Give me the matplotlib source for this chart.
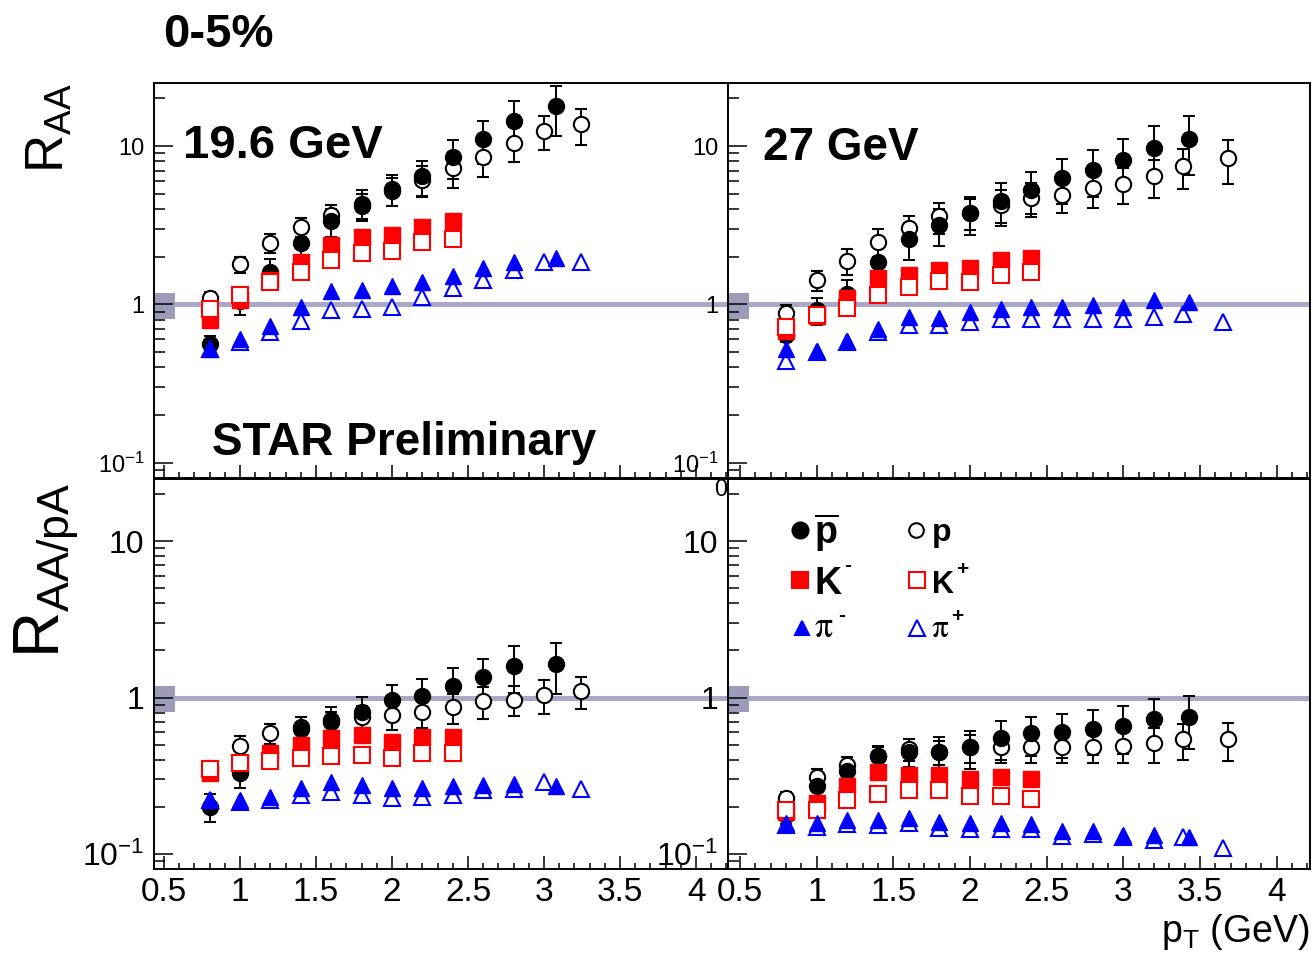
import numpy as np
import matplotlib
matplotlib.use("Agg")
import matplotlib.pyplot as plt
from matplotlib.ticker import (MultipleLocator, LogLocator, NullFormatter,
                               FixedLocator, FixedFormatter)
from matplotlib.patches import Rectangle

plt.rcParams['font.family'] = ['Liberation Sans', 'DejaVu Sans']
plt.rcParams['mathtext.fontset'] = 'custom'
plt.rcParams['mathtext.rm'] = 'Liberation Sans'
plt.rcParams['mathtext.it'] = 'Liberation Sans:italic'
plt.rcParams['mathtext.bf'] = 'Liberation Sans:bold'

# ---------------- data: 0-5% central, pT in GeV ----------------
# 19.6 GeV
x196_pbar = [0.8, 1.0, 1.2, 1.4, 1.6, 1.8, 2.0, 2.2, 2.4, 2.6, 2.8, 3.08]
x196_p    = [0.8, 1.0, 1.2, 1.4, 1.6, 1.8, 2.0, 2.2, 2.4, 2.6, 2.8, 3.0, 3.24]
x196_K    = [0.8, 1.0, 1.2, 1.4, 1.6, 1.8, 2.0, 2.2, 2.4]
x196_pim  = [0.8, 1.0, 1.2, 1.4, 1.6, 1.8, 2.0, 2.2, 2.4, 2.6, 2.8, 3.08]
x196_pip  = [0.8, 1.0, 1.2, 1.4, 1.6, 1.8, 2.0, 2.2, 2.4, 2.6, 2.8, 3.0, 3.24]
# 27 GeV
x27_pbar = [0.8, 1.0, 1.2, 1.4, 1.6, 1.8, 2.0, 2.2, 2.4, 2.6, 2.8, 3.0, 3.2, 3.43]
x27_p    = [0.8, 1.0, 1.2, 1.4, 1.6, 1.8, 2.0, 2.2, 2.4, 2.6, 2.8, 3.0, 3.2, 3.39, 3.68]
x27_K    = [0.8, 1.0, 1.2, 1.4, 1.6, 1.8, 2.0, 2.2, 2.4]
x27_pim  = [0.8, 1.0, 1.2, 1.4, 1.6, 1.8, 2.0, 2.2, 2.4, 2.6, 2.8, 3.0, 3.2, 3.43]
x27_pip  = [0.8, 1.0, 1.2, 1.4, 1.6, 1.8, 2.0, 2.2, 2.4, 2.6, 2.8, 3.0, 3.2, 3.39, 3.65]

# R_AA, 19.6 GeV
raa196_pbar = [0.56, 1.05, 1.6, 2.45, 3.34, 4.3, 5.36, 6.45, 8.55, 11.0, 14.4, 17.8]
raa196_pbar_err = [0.07, 0.19, 0.32, 0.44, 0.67, 0.95, 1.18, 1.6, 2.4, 3.3, 4.75, 6.2]
raa196_p = [1.09, 1.79, 2.45, 3.1, 3.68, 4.2, 5.2, 6.14, 7.28, 8.55, 10.5, 12.5, 13.7]
raa196_p_err = [0.11, 0.21, 0.34, 0.43, 0.55, 0.76, 1.04, 1.35, 1.82, 2.14, 2.6, 3.0, 3.55]
raa196_Km = [0.80, 1.06, 1.42, 1.86, 2.37, 2.68, 2.75, 3.1, 3.34]
raa196_Kp = [0.94, 1.14, 1.38, 1.6, 1.9, 2.12, 2.17, 2.47, 2.59]
raa196_pim = [0.52, 0.605, 0.73, 0.96, 1.22, 1.24, 1.30, 1.39, 1.51, 1.69, 1.86, 1.95]
raa196_pip = [0.52, 0.577, 0.667, 0.79, 0.92, 0.94, 0.96, 1.11, 1.26, 1.42, 1.64, 1.86, 1.86]

# R_AA, 27 GeV
raa27_pbar = [0.64, 0.92, 1.17, 1.86, 2.58, 3.18, 3.77, 4.47, 5.3, 6.29, 7.1, 8.2, 9.76, 11.0]
raa27_pbar_err = [0.06, 0.18, 0.26, 0.45, 0.67, 0.83, 1.02, 1.34, 1.6, 2.0, 2.35, 2.8, 3.6, 4.4]
raa27_p = [0.88, 1.42, 1.88, 2.49, 3.03, 3.59, 3.8, 4.26, 4.7, 4.93, 5.43, 5.77, 6.45, 7.46, 8.35]
raa27_p_err = [0.11, 0.2, 0.34, 0.5, 0.6, 0.79, 0.84, 1.02, 1.13, 1.18, 1.36, 1.44, 1.74, 2.1, 2.6]
raa27_Km = [0.68, 0.85, 1.09, 1.46, 1.53, 1.64, 1.70, 1.90, 1.97]
raa27_Kp = [0.72, 0.86, 0.95, 1.14, 1.28, 1.40, 1.39, 1.53, 1.59]
raa27_pim = [0.52, 0.51, 0.59, 0.70, 0.83, 0.82, 0.89, 0.94, 0.96, 0.96, 0.99, 0.96, 1.06, 1.03]
raa27_pip = [0.44, 0.50, 0.58, 0.67, 0.74, 0.74, 0.77, 0.81, 0.81, 0.81, 0.81, 0.81, 0.83, 0.87, 0.77]

# R_AA/pA, 19.6 GeV
rpa196_pbar = [0.20, 0.33, 0.45, 0.63, 0.72, 0.81, 0.96, 1.03, 1.19, 1.35, 1.60, 1.65]
rpa196_pbar_err = [0.04, 0.066, 0.09, 0.126, 0.144, 0.194, 0.24, 0.28, 0.345, 0.405, 0.53, 0.59]
rpa196_p = [0.35, 0.49, 0.59, 0.65, 0.70, 0.75, 0.77, 0.81, 0.87, 0.95, 0.97, 1.04, 1.10]
rpa196_p_err = [0.042, 0.074, 0.089, 0.098, 0.112, 0.135, 0.154, 0.17, 0.19, 0.22, 0.21, 0.25, 0.25]
rpa196_Km = [0.33, 0.38, 0.44, 0.50, 0.55, 0.58, 0.52, 0.56, 0.56]
rpa196_Kp = [0.35, 0.38, 0.39, 0.41, 0.42, 0.43, 0.41, 0.44, 0.44]
rpa196_pim = [0.22, 0.22, 0.23, 0.265, 0.29, 0.275, 0.265, 0.265, 0.27, 0.275, 0.278, 0.27]
rpa196_pip = [0.22, 0.215, 0.22, 0.238, 0.25, 0.238, 0.226, 0.232, 0.238, 0.256, 0.26, 0.29, 0.26]

# R_AA/pA, 27 GeV
rpa27_pbar = [0.177, 0.27, 0.34, 0.42, 0.45, 0.45, 0.48, 0.55, 0.59, 0.60, 0.63, 0.66, 0.73, 0.75]
rpa27_pbar_err = [0.021, 0.04, 0.054, 0.071, 0.09, 0.108, 0.13, 0.154, 0.165, 0.19, 0.2, 0.224, 0.255, 0.28]
rpa27_p = [0.226, 0.31, 0.37, 0.42, 0.47, 0.45, 0.48, 0.48, 0.48, 0.48, 0.48, 0.49, 0.51, 0.54, 0.54]
rpa27_p_err = [0.023, 0.037, 0.048, 0.059, 0.075, 0.081, 0.10, 0.10, 0.10, 0.10, 0.10, 0.108, 0.128, 0.14, 0.146]
rpa27_Km = [0.186, 0.21, 0.27, 0.334, 0.32, 0.32, 0.30, 0.31, 0.30]
rpa27_Kp = [0.19, 0.19, 0.22, 0.243, 0.256, 0.256, 0.234, 0.236, 0.223]
rpa27_pim = [0.157, 0.157, 0.165, 0.165, 0.169, 0.161, 0.157, 0.157, 0.155, 0.139, 0.139, 0.132, 0.132, 0.129]
rpa27_pip = [0.153, 0.149, 0.155, 0.153, 0.158, 0.146, 0.144, 0.144, 0.144, 0.13, 0.134, 0.129, 0.122, 0.129, 0.109]

# normalisation uncertainty band around unity
norm_lo, norm_hi = 0.81, 1.18

y_ticks = [0.1, 1, 10]
y_ticklabels = [r'$10^{-1}$', '1', '10']
x_ticks = [0.5, 1, 1.5, 2, 2.5, 3, 3.5, 4]
x_ticklabels = ['0.5', '1', '1.5', '2', '2.5', '3', '3.5', '4']

# ---------------- figure ----------------
W, H = 1313, 960
fig = plt.figure(figsize=(W / 100, H / 100), dpi=100)


def fx(px):
    return px / W


def fy(py):
    return 1 - py / H


LINE_C = '#a9a9c7'
BOX_C = '#9c9cba'
RED = '#ff0000'
BLUE = '#0000ff'


def panel(rect, xlim, xs, ys, bottom_row):
    (xpb, xp, xk, xpim, xpip) = xs
    (pb, pbe, p, pe, km, kp, pim, pip) = ys
    ax = fig.add_axes(rect)
    ax.set_yscale('log')
    ax.set_xlim(*xlim)
    ax.set_ylim(0.08, 25)

    ax.axhline(1.0, color=LINE_C, lw=3.6, zorder=1)
    ax.add_patch(Rectangle((xlim[0], norm_lo), 0.135, norm_hi - norm_lo,
                           facecolor=BOX_C, edgecolor='none', zorder=1.5))

    eb = dict(ls='none', elinewidth=1.4, capsize=4, capthick=1.4, zorder=3)
    ax.errorbar(xp, p, yerr=pe, fmt='o', ms=11, mfc='white', mec='black',
                mew=1.5, ecolor='black', **eb)
    ax.errorbar(xpb, pb, yerr=pbe, fmt='o', ms=11.5, mfc='black', mec='black',
                ecolor='black', **eb)
    ax.plot(xk, km, 's', ms=12, mfc=RED, mec=RED, ls='none', zorder=4)
    ax.plot(xk, kp, 's', ms=11.5, mfc='white', mec=RED, mew=1.5, ls='none', zorder=4)
    ax.plot(xpip, pip, '^', ms=12, mfc='white', mec=BLUE, mew=1.5, ls='none', zorder=4)
    ax.plot(xpim, pim, '^', ms=11.5, mfc=BLUE, mec=BLUE, ls='none', zorder=4)

    for s in ax.spines.values():
        s.set_linewidth(1.4)
        s.set_color('black')

    ax.yaxis.set_major_locator(FixedLocator(y_ticks))
    ax.yaxis.set_major_formatter(FixedFormatter(y_ticklabels))
    ax.yaxis.set_minor_locator(LogLocator(base=10, subs=[2, 3, 4, 5, 6, 7, 8, 9]))
    ax.yaxis.set_minor_formatter(NullFormatter())
    ax.xaxis.set_major_locator(FixedLocator(x_ticks))
    ax.xaxis.set_major_formatter(FixedFormatter(x_ticklabels))
    ax.xaxis.set_minor_locator(MultipleLocator(0.1))

    ax.tick_params(which='both', direction='in', top=False, right=False,
                   width=1.1, color='black')
    ax.tick_params(axis='y', which='major', length=13.5, pad=7,
                   labelsize=23 if bottom_row else 17)
    ax.tick_params(axis='y', which='minor', length=8)
    ax.tick_params(axis='x', which='major', length=9.5, pad=6, labelsize=24,
                   labelbottom=bottom_row)
    ax.tick_params(axis='x', which='minor', length=4.5)
    return ax


top_b, top_h = fy(478), 395 / H
bot_b, bot_h = fy(869), 390 / H
left_x, left_w = fx(154), 574 / W
right_x, right_w = fx(728), 582 / W
xlim_left = (0.434, 4.21)
xlim_right = (0.422, 4.218)

xs196 = (x196_pbar, x196_p, x196_K, x196_pim, x196_pip)
xs27 = (x27_pbar, x27_p, x27_K, x27_pim, x27_pip)

ax_tl = panel([left_x, top_b, left_w, top_h], xlim_left, xs196,
              (raa196_pbar, raa196_pbar_err, raa196_p, raa196_p_err,
               raa196_Km, raa196_Kp, raa196_pim, raa196_pip), False)
ax_bl = panel([left_x, bot_b, left_w, bot_h], xlim_left, xs196,
              (rpa196_pbar, rpa196_pbar_err, rpa196_p, rpa196_p_err,
               rpa196_Km, rpa196_Kp, rpa196_pim, rpa196_pip), True)
ax_tr = panel([right_x, top_b, right_w, top_h], xlim_right, xs27,
              (raa27_pbar, raa27_pbar_err, raa27_p, raa27_p_err,
               raa27_Km, raa27_Kp, raa27_pim, raa27_pip), False)
ax_br = panel([right_x, bot_b, right_w, bot_h], xlim_right, xs27,
              (rpa27_pbar, rpa27_pbar_err, rpa27_p, rpa27_p_err,
               rpa27_Km, rpa27_Kp, rpa27_pim, rpa27_pip), True)

# ---------------- annotations ----------------
fig.text(fx(163), fy(47), '0-5%', fontsize=34, fontweight='bold', va='baseline')
fig.text(fx(183), fy(158), '19.6 GeV', fontsize=34, fontweight='bold', va='baseline')
fig.text(fx(763), fy(160), '27 GeV', fontsize=33, fontweight='bold', va='baseline')
fig.text(fx(212), fy(455), 'STAR Preliminary', fontsize=33, fontweight='bold',
         va='baseline')

fig.text(fx(50), fy(128), r'$\mathrm{R}_{\mathrm{AA}}$', fontsize=38,
         rotation=90, ha='center', va='center')
fig.text(fx(47), fy(570), r'$\mathrm{R}_{\mathrm{AA/pA}}$', fontsize=46,
         rotation=90, ha='center', va='center')
fig.text(fx(1310), fy(942), r'$\mathrm{p}_{\mathrm{T}}$ (GeV)', fontsize=27,
         ha='right', va='baseline')
fig.text(fx(714), fy(496), '0', fontsize=17, va='baseline')

# ---------------- legend (27 GeV, R_AA/pA panel) ----------------
def lfrac(px, py):
    return ((px - 728) / 582, (869 - py) / 390)


leg = [
    ((800, 530), 'o', 'black', 'black', 11.5),
    ((916, 530), 'o', 'white', 'black', 10.5),
    ((800, 580), 's', RED, RED, 11.5),
    ((917, 580), 's', 'white', RED, 11.5),
    ((802, 628), '^', BLUE, BLUE, 10),
    ((917, 628), '^', 'white', BLUE, 12),
]
for (pos, m, fc, ec, ms) in leg:
    lx, ly = lfrac(*pos)
    ax_br.plot([lx], [ly], m, ms=ms, mfc=fc, mec=ec, mew=1.5,
               transform=ax_br.transAxes, clip_on=False, zorder=6)

fig.text(fx(814), fy(544), r'$\overline{\mathbf{p}}$', fontsize=27, va='baseline')
fig.text(fx(932), fy(541), 'p', fontsize=23, fontweight='bold', va='baseline')
fig.text(fx(814), fy(594), 'K', fontsize=27, fontweight='bold', va='baseline')
fig.text(fx(844), fy(571), '-', fontsize=15, fontweight='bold', va='baseline')
fig.text(fx(932), fy(593), 'K', fontsize=22, fontweight='bold', va='baseline')
fig.text(fx(956), fy(575), '+', fontsize=15, fontweight='bold', va='baseline')
fig.text(fx(814), fy(637), r'$\mathrm{\pi}$', fontsize=26, va='baseline',
         math_fontfamily='stix')
fig.text(fx(838), fy(621), '-', fontsize=15, fontweight='bold', va='baseline')
fig.text(fx(931), fy(637), r'$\mathrm{\pi}$', fontsize=24, va='baseline',
         math_fontfamily='stix')
fig.text(fx(951), fy(622), '+', fontsize=15, fontweight='bold', va='baseline')

fig.savefig('out.png', dpi=100)
